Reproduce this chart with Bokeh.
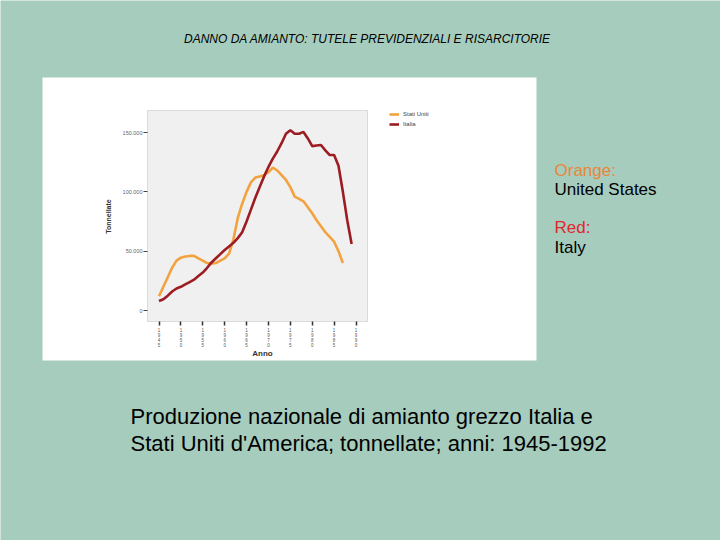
import math
from bokeh.plotting import figure
from bokeh.models import (Range1d, FixedTicker, Label, BoxAnnotation, Legend, LegendItem,
                          ColumnDataSource)
from bokeh.embed import file_html
from bokeh.resources import INLINE

# ---------------- data ----------------
years_it = list(range(1945, 1990))
italy = [8000, 9500, 12500, 16000, 18500, 20000, 22000, 24000, 26000, 29000,
         32000, 36000, 40500, 44000, 47500, 51000, 54000, 57000, 61000, 66000,
         75000, 85000, 95000, 104000, 113000, 121000, 128000, 134000, 141000, 149000,
         152000, 149000, 149000, 150500, 145000, 138500, 139000, 139500, 135000, 131000,
         131000, 122000, 100000, 76000, 56000]
years_us = list(range(1945, 1988))
usa = [12000, 20000, 28000, 36000, 42000, 44500, 45500, 46000, 46000, 44000,
       42000, 40000, 39500, 40000, 42000, 44000, 48000, 60000, 78000, 90000,
       100000, 108000, 112000, 113000, 114000, 116500, 120500, 118000, 114000, 110000,
       104000, 96000, 94000, 92000, 87000, 82000, 76000, 71000, 66000, 62000,
       58000, 50000, 40000]
x_ticks = [1945, 1950, 1955, 1960, 1965, 1970, 1975, 1980, 1985, 1990]
y_ticks = [0, 50000, 100000, 150000]
y_tick_labels = ["0", "50.000", "100.000", "150.000"]
series_names = ["Stati Uniti", "Italia"]

# ---------------- geometry / style ----------------
BG = "#A6CCBD"
ORANGE = "#F2A23E"
RED = "#9C1C22"
W, H = 720, 540
# scale of the embedded chart: 1945 at px 158.5, 4.378 px / year; 0 t at px 310, 59.33 px / 50.000 t
PX_1945, PX_PER_YEAR = 158.5, 197.0 / 45.0
PY_ZERO, PX_PER_T = 310.0, 59.33 / 50000.0
X0 = 1945 - PX_1945 / PX_PER_YEAR
X1 = 1945 + (W - PX_1945) / PX_PER_YEAR
Y1 = PY_ZERO / PX_PER_T
Y0 = -(H - PY_ZERO) / PX_PER_T


def dx(px):
    return X0 + px / W * (X1 - X0)


def dy(py):
    return Y1 - py / H * (Y1 - Y0)


# inner chart frame (pixels)
FL, FR, FT, FB = 147, 367, 110, 321

p = figure(width=W, height=H, output_backend="svg", toolbar_location=None,
           x_range=Range1d(X0, X1), y_range=Range1d(Y0, Y1),
           min_border=0)
p.border_fill_color = BG
p.background_fill_color = BG
p.outline_line_color = None
p.grid.visible = False

# white chart panel (the pasted chart picture) and its grey plot area
p.add_layout(BoxAnnotation(left=dx(42), right=dx(536), top=dy(77), bottom=dy(360),
                           fill_color="white", fill_alpha=1, line_color=None, level="underlay"))
p.add_layout(BoxAnnotation(left=dx(FL), right=dx(FR), top=dy(FT), bottom=dy(FB),
                           fill_color="#F0F0F0", fill_alpha=1, line_color="#9A9A9A",
                           line_width=1, level="underlay"))

src_us = ColumnDataSource(dict(x=years_us, y=usa))
src_it = ColumnDataSource(dict(x=years_it, y=italy))
r_us = p.line("x", "y", source=src_us, line_color=ORANGE, line_width=2.6)
r_it = p.line("x", "y", source=src_it, line_color=RED, line_width=2.6)

# axes, pinned to the inner chart frame
xa = p.xaxis[0]
xa.fixed_location = dy(FB)
xa.ticker = FixedTicker(ticks=x_ticks)
xa.major_label_overrides = {t: "\n".join(str(t)) for t in x_ticks}
xa.major_label_text_font_size = "4.5px"
xa.major_label_text_color = "#555555"
xa.major_label_text_line_height = 1.05
xa.major_tick_out = 4
xa.major_tick_in = 0
xa.minor_tick_out = 0
xa.minor_tick_in = 0
xa.major_tick_line_color = "#333333"
xa.major_tick_line_width = 1.5
xa.axis_line_color = None
xa.major_label_standoff = 2

ya = p.yaxis[0]
ya.fixed_location = dx(FL)
ya.ticker = FixedTicker(ticks=y_ticks)
ya.major_label_overrides = dict(zip(y_ticks, y_tick_labels))
ya.major_label_text_font_size = "5.5px"
ya.major_label_text_color = "#666666"
ya.major_tick_out = 4
ya.major_tick_in = 0
ya.minor_tick_out = 0
ya.minor_tick_in = 0
ya.major_tick_line_color = "#444444"
ya.axis_line_color = None
ya.major_label_standoff = 1

legend = Legend(items=[LegendItem(label=series_names[0], renderers=[r_us]),
                       LegendItem(label=series_names[1], renderers=[r_it])],
                location=(389, H - 129), padding=0, margin=0, spacing=0,
                glyph_width=10, glyph_height=10, label_height=10, label_standoff=4,
                label_text_font_size="6px", label_text_color="#444444",
                label_text_font="Liberation Sans",
                background_fill_alpha=0, border_line_color=None)
p.add_layout(legend)


def txt(x, y, s, size, color="black", align="left", style="normal",
        baseline="alphabetic", angle=0.0):
    p.add_layout(Label(x=dx(x), y=dy(y), text=s, text_font="Liberation Sans",
                       text_font_size=size, text_color=color, text_align=align,
                       text_baseline=baseline, text_font_style=style, angle=angle))


# axis titles of the embedded chart
txt(262, 353, "Anno", "8px", color="#333333", align="center", style="bold", baseline="middle")
txt(108, 216, "Tonnellate", "7px", color="#333333", align="center", style="bold",
    baseline="middle", angle=math.pi / 2)

txt(367, 38, "DANNO DA AMIANTO: TUTELE PREVIDENZIALI E RISARCITORIE", "12px",
    align="center", style="italic")
txt(554, 170, "Orange:", "17px", color="#E8873A")
txt(554, 189, "United States", "17px")
txt(554, 227, "Red:", "17px", color="#E0262E")
txt(554, 247, "Italy", "17px")
txt(130, 416, "Produzione nazionale di amianto grezzo Italia e", "22px")
txt(130, 443, "Stati Uniti d'America; tonnellate; anni: 1945-1992", "22px")

open("out.html", "w").write(file_html(p, INLINE))
